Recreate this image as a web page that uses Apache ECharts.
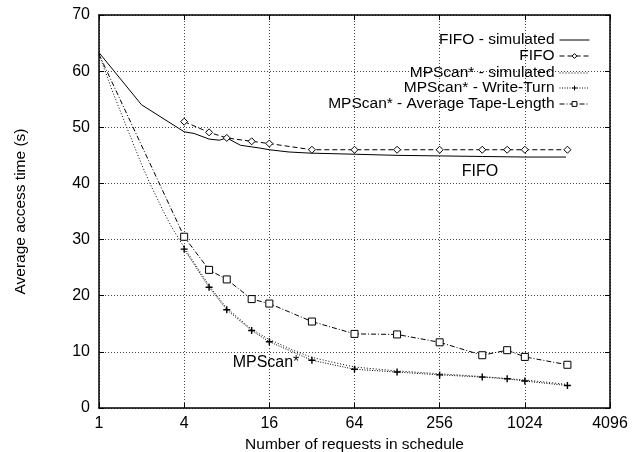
<!DOCTYPE html>
<html>
<head>
<meta charset="utf-8">
<script src="https://cdn.jsdelivr.net/npm/echarts@6/dist/echarts.min.js"></script>
<style>
  html, body { margin: 0; padding: 0; background: #fff; }
  #main { width: 638px; height: 452px; }
</style>
</head>
<body>
<div id="main"></div>
<script>
// schedule sizes where measurements were taken
const schedX = [4, 6, 8, 12, 16, 32, 64, 128, 256, 512, 768, 1024, 2048];
const fifoY = [51.0, 49.1, 48.1, 47.5, 47.1, 46.0, 46.0, 46.0, 46.0, 46.0, 46.0, 46.0, 46.0];
const writeTurnY = [28.3, 21.5, 17.5, 13.8, 11.8, 8.5, 6.9, 6.4, 5.9, 5.5, 5.2, 4.8, 4.0];
const tapeLenX = [1, 4, 6, 8, 12, 16, 32, 64, 128, 256, 512, 768, 1024, 2048];
const tapeLenY = [63.0, 30.5, 24.6, 22.9, 19.4, 18.6, 15.4, 13.2, 13.1, 11.7, 9.4, 10.3, 9.1, 7.7];

// simulated curves
const fifoSimX = [1, 2, 4, 4.7, 6, 7.1, 8, 10, 13.7, 16, 22, 31, 64, 128, 256, 512, 1024, 2000];
const fifoSimY = [63.3, 54.0, 49.2, 48.9, 47.9, 47.7, 48.1, 46.8, 46.3, 46.0, 45.6, 45.4, 45.2, 45.0, 44.9, 44.8, 44.7, 44.7];
const mpsSimX = [1, 1.25, 1.57, 2, 2.29, 2.83, 3.25, 4, 6, 8, 12, 16, 24, 32, 64, 128, 256, 512, 1024, 2048];
const mpsSimY = [63.0, 56.3, 50.0, 43.4, 40.0, 35.2, 32.3, 28.6, 21.8, 17.8, 14.0, 12.2, 10.2, 9.0, 7.3, 6.6, 6.1, 5.6, 5.0, 4.2];

const xTicks = [1, 4, 16, 64, 256, 1024, 4096];

const names = ['FIFO - simulated', 'FIFO', 'MPScan* - simulated', 'MPScan* - Write-Turn', 'MPScan* - Average Tape-Length'];

const zip = (xs, ys) => xs.map((x, i) => [x, ys[i]]);
const FONT = 'Liberation Sans';
const PLUS = 'path://M4,0H6V4H10V6H6V10H4V6H0V4H4Z';
const hollow = { color: '#fff', borderColor: '#000', borderWidth: 1 };

const chart = echarts.init(document.getElementById('main'));

// gnuplot-like key: one legend per row, text right-aligned, sample on the right
const legendTops = [27, 43, 60, 75, 91];
const legendItem = [{ opacity: 0 }, hollow, { opacity: 0 }, {}, hollow];
const legends = names.map((n, i) => ({
  data: [n],
  right: 43,
  top: legendTops[i],
  align: 'right',
  itemWidth: 30,
  itemHeight: 6,
  selectedMode: false,
  lineStyle: { width: 1 },
  itemStyle: legendItem[i],
  textStyle: { fontFamily: FONT, fontSize: 15.5, color: '#000' }
}));

const tapeData = zip(tapeLenX, tapeLenY).map((p, i) => i === 0 ? { value: p, symbol: 'none' } : p);

const gridLine = { show: true, lineStyle: { color: '#444', type: [1, 2], width: 1 } };
const tick = { show: true, inside: true, length: 5, lineStyle: { color: '#000' } };
const border = { show: true, onZero: false, lineStyle: { color: '#000', width: 1.5 } };

chart.setOption({
  animation: false,
  backgroundColor: '#fff',
  textStyle: { fontFamily: FONT },
  grid: { left: 99, right: 28, top: 15, bottom: 44, containLabel: false, outerBoundsMode: 'none' },
  legend: legends,
  xAxis: [{
    type: 'log',
    logBase: 4,
    min: xTicks[0],
    max: xTicks[xTicks.length - 1],
    name: 'Number of requests in schedule',
    nameLocation: 'middle',
    nameGap: 23,
    nameTextStyle: { color: '#000', fontSize: 15.5, fontFamily: FONT },
    axisLine: border,
    axisTick: tick,
    minorTick: { show: false },
    axisLabel: { color: '#000', fontSize: 16, fontFamily: FONT, margin: 8, showMaxLabel: true, showMinLabel: true, formatter: v => String(v) },
    splitLine: gridLine
  }, {
    type: 'log',
    logBase: 4,
    position: 'top',
    min: xTicks[0],
    max: xTicks[xTicks.length - 1],
    axisLine: border,
    axisTick: tick,
    axisLabel: { show: false },
    splitLine: { show: false }
  }],
  yAxis: [{
    type: 'value',
    min: 0,
    max: 70,
    interval: 10,
    name: 'Average access time (s)',
    nameLocation: 'middle',
    nameGap: 70,
    nameTextStyle: { color: '#000', fontSize: 15.5, fontFamily: FONT },
    axisLine: border,
    axisTick: tick,
    axisLabel: { color: '#000', fontSize: 16, fontFamily: FONT, margin: 9 },
    splitLine: gridLine
  }, {
    type: 'value',
    position: 'right',
    min: 0,
    max: 70,
    interval: 10,
    axisLine: border,
    axisTick: tick,
    axisLabel: { show: false },
    splitLine: { show: false }
  }],
  // curve annotations inside the plot
  graphic: [{
    type: 'text',
    x: 480, y: 172,
    style: { text: 'FIFO', fontSize: 16, fontFamily: FONT, fill: '#000', align: 'center', verticalAlign: 'middle' },
    z: 10
  }, {
    type: 'text',
    x: 266, y: 363,
    style: { text: 'MPScan*', fontSize: 16, fontFamily: FONT, fill: '#000', align: 'center', verticalAlign: 'middle' },
    z: 10
  }],
  series: [{
    name: names[0],
    type: 'line',
    data: zip(fifoSimX, fifoSimY),
    symbol: 'none',
    lineStyle: { color: '#000', width: 1 },
    itemStyle: { color: '#000' },
    z: 3
  }, {
    name: names[1],
    type: 'line',
    data: zip(schedX, fifoY),
    symbol: 'diamond',
    symbolSize: 7,
    lineStyle: { color: '#000', width: 1, type: [5, 3] },
    itemStyle: hollow,
    z: 4
  }, {
    name: names[2],
    type: 'line',
    data: zip(mpsSimX, mpsSimY),
    symbol: 'none',
    lineStyle: { color: '#000', width: 1, type: [1, 2] },
    itemStyle: { color: '#000' },
    z: 3
  }, {
    name: names[3],
    type: 'line',
    data: zip(schedX, writeTurnY),
    symbol: PLUS,
    symbolSize: 7,
    lineStyle: { color: '#000', width: 1, type: [1, 1.5] },
    itemStyle: { color: '#000' },
    z: 4
  }, {
    name: names[4],
    type: 'line',
    data: tapeData,
    symbol: 'rect',
    symbolSize: 7,
    lineStyle: { color: '#000', width: 1, type: [5, 2, 1, 2] },
    itemStyle: hollow,
    z: 4
  }]
});
</script>
</body>
</html>
